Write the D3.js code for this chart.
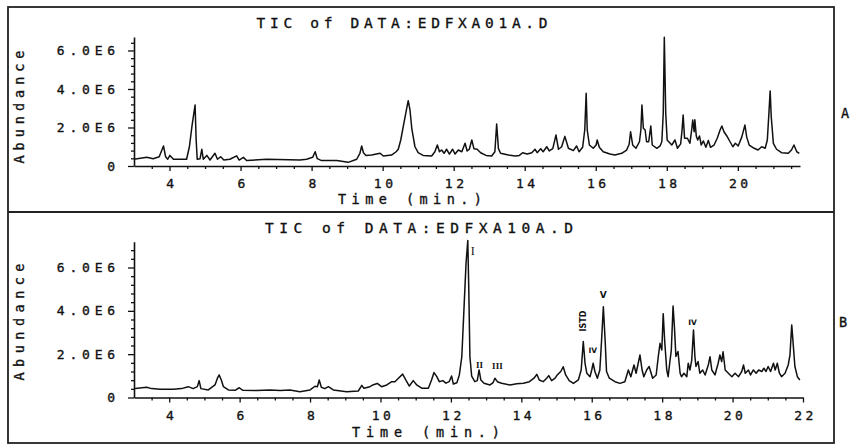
<!DOCTYPE html>
<html>
<head>
<meta charset="UTF-8">
<script src="https://d3js.org/d3.v7.min.js"></script>
<style>
  html, body { margin: 0; padding: 0; background: #fff; }
  svg { display: block; }
  text { fill: #111; }
  .mono { font-family: "DejaVu Sans Mono", monospace; stroke: #111; stroke-width: 0.35px; }
</style>
</head>
<body>
<div id="viz"></div>
<script>
// tick values (abundance in units of 1E6, time in minutes)
const yTicks = [0, 2, 4, 6];
const xTicksA = [4, 6, 8, 10, 12, 14, 16, 18, 20];
const xTicksB = [4, 6, 8, 10, 12, 14, 16, 18, 20, 22];
const titleA = "TIC of DATA:EDFXA01A.D";
const titleB = "TIC of DATA:EDFXA10A.D";

// [time (min), abundance (E6)]
const traceA = [
  [3.00,0.35],[3.36,0.45],[3.54,0.38],[3.71,0.48],[3.83,1.04],[3.89,0.48],[3.95,0.35],[4.01,0.55],[4.11,0.35],[4.48,0.35],
  [4.56,1.00],[4.63,2.04],[4.72,3.17],[4.75,1.35],[4.78,0.35],[4.86,0.38],[4.91,0.87],[4.95,0.35],[5.05,0.55],[5.14,0.31],
  [5.28,0.66],[5.35,0.35],[5.44,0.48],[5.53,0.31],[5.70,0.35],[5.89,0.53],[5.96,0.31],[6.08,0.45],[6.17,0.29],[6.74,0.35],
  [7.67,0.31],[7.86,0.35],[8.03,0.45],[8.10,0.74],[8.16,0.38],[8.28,0.28],[8.71,0.28],[9.03,0.19],[9.27,0.35],[9.36,0.66],
  [9.41,1.04],[9.46,0.69],[9.53,0.55],[9.69,0.57],[9.93,0.66],[10.02,0.52],[10.25,0.57],[10.38,0.74],[10.44,0.87],[10.51,1.35],
  [10.58,2.04],[10.66,2.82],[10.72,3.39],[10.77,2.91],[10.82,1.96],[10.86,1.52],[10.91,1.00],[11.00,0.69],[11.14,0.55],[11.38,0.52],
  [11.47,0.74],[11.54,1.09],[11.60,0.74],[11.66,0.83],[11.73,0.66],[11.80,0.87],[11.88,0.62],[11.97,0.87],[12.04,0.62],[12.13,0.83],
  [12.23,0.74],[12.32,1.18],[12.38,0.78],[12.44,0.87],[12.51,1.35],[12.57,0.90],[12.66,0.87],[12.76,0.69],[12.91,0.55],[13.07,0.52],
  [13.16,0.74],[13.21,2.18],[13.26,0.90],[13.32,0.66],[13.54,0.57],[13.73,0.52],[13.85,0.55],[13.94,0.69],[14.07,0.62],[14.20,0.69],
  [14.29,0.87],[14.35,0.69],[14.45,0.90],[14.52,0.74],[14.62,1.00],[14.69,0.78],[14.79,0.90],[14.88,1.61],[14.95,0.87],[15.04,1.00],
  [15.13,1.54],[15.23,0.92],[15.37,0.80],[15.46,1.04],[15.53,0.74],[15.63,0.97],[15.69,1.87],[15.73,3.78],[15.76,1.87],[15.82,1.09],
  [15.93,0.92],[16.01,1.09],[16.04,1.35],[16.10,0.97],[16.21,0.74],[16.40,0.62],[16.54,0.57],[16.73,0.66],[16.87,0.83],[16.94,1.13],
  [16.98,1.78],[17.04,1.09],[17.13,0.92],[17.23,1.26],[17.27,1.87],[17.30,3.17],[17.34,1.96],[17.39,1.87],[17.43,1.26],[17.49,1.26],
  [17.55,2.08],[17.59,1.09],[17.72,0.92],[17.81,1.04],[17.86,1.26],[17.90,2.74],[17.93,6.69],[17.97,2.74],[18.01,1.35],[18.14,1.09],
  [18.23,1.35],[18.30,0.92],[18.39,1.15],[18.43,1.87],[18.46,2.65],[18.50,1.44],[18.58,1.44],[18.65,1.18],[18.70,1.87],[18.73,2.39],
  [18.77,1.78],[18.79,2.40],[18.83,1.56],[18.87,1.35],[18.92,1.56],[18.97,1.09],[19.03,1.30],[19.10,0.97],[19.17,1.33],[19.23,0.97],
  [19.33,1.09],[19.42,1.44],[19.50,1.87],[19.55,2.08],[19.61,1.78],[19.69,1.56],[19.78,1.26],[19.86,1.00],[19.93,1.18],[20.01,1.04],
  [20.11,1.50],[20.20,2.13],[20.25,1.50],[20.32,1.09],[20.46,0.92],[20.57,0.83],[20.67,1.00],[20.77,0.92],[20.83,1.35],[20.88,2.90],
  [20.91,3.90],[20.94,2.57],[21.00,1.18],[21.09,0.87],[21.23,0.69],[21.42,0.66],[21.51,0.83],[21.58,1.09],[21.66,0.74],[21.73,0.66]
];

const traceB = [
  [3.03,0.42],[3.36,0.47],[3.50,0.41],[3.74,0.38],[4.12,0.38],[4.35,0.41],[4.54,0.50],[4.68,0.41],[4.80,0.50],[4.85,0.78],
  [4.90,0.41],[5.11,0.35],[5.30,0.58],[5.37,0.89],[5.42,1.04],[5.48,0.81],[5.54,0.50],[5.68,0.35],[5.87,0.33],[5.99,0.45],
  [6.09,0.33],[6.48,0.32],[6.86,0.35],[7.15,0.32],[7.43,0.35],[7.71,0.27],[8.00,0.35],[8.14,0.52],[8.21,0.50],[8.26,0.81],
  [8.32,0.47],[8.42,0.41],[8.52,0.50],[8.66,0.35],[9.04,0.27],[9.37,0.30],[9.47,0.56],[9.53,0.43],[9.70,0.50],[9.80,0.59],
  [9.91,0.65],[10.03,0.50],[10.18,0.58],[10.32,0.73],[10.41,0.73],[10.51,0.89],[10.63,1.08],[10.73,0.78],[10.82,0.53],[10.93,0.78],
  [11.03,0.58],[11.17,0.43],[11.36,0.43],[11.45,0.81],[11.52,1.15],[11.60,0.96],[11.67,0.73],[11.77,0.78],[11.86,0.66],[11.95,0.73],
  [12.02,0.99],[12.07,0.62],[12.17,0.68],[12.24,1.04],[12.31,1.88],[12.37,4.04],[12.43,6.19],[12.48,7.25],[12.51,4.81],[12.54,1.88],
  [12.59,0.99],[12.68,0.73],[12.75,0.78],[12.80,1.27],[12.85,0.81],[12.94,0.66],[13.11,0.58],[13.20,0.69],[13.25,0.89],[13.32,0.73],
  [13.44,0.66],[13.68,0.58],[13.87,0.63],[14.06,0.66],[14.23,0.73],[14.36,0.89],[14.44,1.07],[14.51,0.81],[14.62,0.73],[14.72,0.89],
  [14.78,1.01],[14.86,0.78],[14.96,0.89],[15.02,1.04],[15.12,1.20],[15.19,1.42],[15.26,1.04],[15.36,0.78],[15.48,0.65],[15.62,0.81],
  [15.70,1.27],[15.76,2.58],[15.81,1.58],[15.86,1.12],[15.95,0.96],[16.00,1.27],[16.04,1.58],[16.09,1.20],[16.16,0.89],[16.23,1.27],
  [16.28,2.65],[16.33,4.19],[16.38,2.65],[16.42,1.20],[16.50,0.89],[16.66,0.73],[16.80,0.65],[16.94,0.73],[17.04,1.27],[17.11,0.96],
  [17.20,1.50],[17.26,1.12],[17.32,1.58],[17.37,1.96],[17.43,1.27],[17.48,0.96],[17.56,1.27],[17.63,1.43],[17.73,0.89],[17.83,1.04],
  [17.89,1.89],[17.94,2.50],[17.99,2.19],[18.03,3.87],[18.07,2.65],[18.13,1.27],[18.17,0.96],[18.22,1.66],[18.26,2.19],[18.31,4.22],
  [18.35,3.20],[18.39,1.89],[18.45,2.12],[18.51,1.12],[18.55,0.96],[18.62,1.12],[18.70,0.96],[18.74,1.58],[18.79,1.27],[18.84,1.73],
  [18.89,3.11],[18.93,1.89],[18.96,1.43],[19.02,1.66],[19.07,1.12],[19.15,1.27],[19.22,1.04],[19.31,1.50],[19.36,1.88],[19.41,1.27],
  [19.50,1.04],[19.59,1.58],[19.64,1.96],[19.69,1.66],[19.73,2.11],[19.79,1.27],[19.88,1.12],[19.98,0.96],[20.07,1.12],[20.17,0.96],
  [20.26,1.20],[20.31,1.50],[20.36,1.12],[20.45,1.27],[20.51,1.04],[20.59,1.27],[20.67,1.12],[20.74,1.27],[20.83,1.20],[20.89,1.35],
  [20.95,1.20],[21.01,1.43],[21.08,1.20],[21.16,1.58],[21.21,1.27],[21.27,1.58],[21.33,1.12],[21.39,0.96],[21.49,1.12],[21.58,1.50],
  [21.63,1.96],[21.68,3.35],[21.72,2.50],[21.77,1.43],[21.84,0.96],[21.91,0.81]
];

// peak labels in run B: [text, time, abundance]
const peakLabelsB = [
  ["I", 12.62, 6.77],
  ["II", 12.81, 1.50],
  ["III", 13.32, 1.45],
  ["ISTD", 15.76, 3.53],
  ["IV", 16.03, 2.19],
  ["V", 16.33, 4.73],
  ["IV", 18.86, 3.44]
];

const svg = d3.select("#viz").append("svg")
    .attr("width", 865)
    .attr("height", 444);

// outer frame, split into two panels
svg.append("rect")
    .attr("x", 8).attr("y", 7).attr("width", 826).attr("height", 436)
    .attr("fill", "none").attr("stroke", "#222").attr("stroke-width", 1.8);
svg.append("line")
    .attr("x1", 8).attr("x2", 834).attr("y1", 212).attr("y2", 212)
    .attr("stroke", "#222").attr("stroke-width", 1.8);

function drawPanel(o) {
  const x = d3.scaleLinear().domain(o.xDomain).range(o.xRange);
  const y = d3.scaleLinear().domain(o.yDomain).range(o.yRange);
  const g = svg.append("g");
  const y0 = y(0);

  // minor ticks
  const xMinor = d3.range(3.5, o.xDomain[1], 0.5).filter(t => t % 2 !== 0);
  const yMinor = d3.range(0.4, o.yDomain[1], 0.4).filter(v => Math.abs(v / 2 - Math.round(v / 2)) > 0.01);

  g.append("g")
      .attr("transform", `translate(0,${y0})`)
      .call(d3.axisBottom(x).tickValues(xMinor).tickSize(3).tickFormat(""))
      .call(a => a.select(".domain").remove());
  g.append("g")
      .attr("transform", `translate(${o.xRange[0]},0)`)
      .call(d3.axisLeft(y).tickValues(yMinor).tickSize(3).tickFormat(""))
      .call(a => a.select(".domain").remove());

  const xa = g.append("g")
      .attr("transform", `translate(0,${y0})`)
      .call(d3.axisBottom(x).tickValues(o.xTicks).tickSize(5).tickPadding(8).tickSizeOuter(0).tickFormat(d3.format("d")));
  xa.selectAll("text")
      .attr("class", "mono").attr("font-size", 13).attr("letter-spacing", 3.5).attr("dx", 2);

  const ya = g.append("g")
      .attr("transform", `translate(${o.xRange[0]},0)`)
      .call(d3.axisLeft(y).tickValues(yTicks).tickSize(6).tickPadding(8).tickSizeOuter(0)
        .tickFormat(d => d === 0 ? "0" : d.toFixed(1) + "E6"));
  ya.selectAll("text")
      .attr("class", "mono").attr("font-size", 13).attr("letter-spacing", 4.8);

  g.selectAll(".domain").attr("stroke-width", 1.6);
  g.selectAll(".tick line").attr("stroke-width", 1.3);
  g.selectAll(".domain, .tick line").attr("stroke", "#111");
  g.selectAll(".tick text").attr("fill", "#111");

  g.append("path")
      .datum(o.trace)
      .attr("fill", "none")
      .attr("stroke", "#111")
      .attr("stroke-width", 1.5)
      .attr("stroke-linejoin", "round")
      .attr("d", d3.line().x(d => x(d[0])).y(d => y(d[1])));

  g.append("text").attr("class", "mono")
      .attr("x", o.title[1]).attr("y", o.title[2])
      .attr("text-anchor", "middle").attr("font-size", 14.5)
      .attr("textLength", o.title[3]).attr("lengthAdjust", "spacing")
      .text(o.title[0]);

  g.append("text").attr("class", "mono")
      .attr("x", o.xLabel[0]).attr("y", o.xLabel[1])
      .attr("text-anchor", "middle").attr("font-size", 13.5)
      .attr("textLength", o.xLabel[2]).attr("lengthAdjust", "spacing")
      .text("Time (min.)");

  g.append("text").attr("class", "mono")
      .attr("transform", `translate(${o.yLabel[0]},${o.yLabel[1]}) rotate(-90)`)
      .attr("text-anchor", "middle").attr("font-size", 13.5)
      .attr("textLength", o.yLabel[2]).attr("lengthAdjust", "spacing")
      .text("Abundance");

  g.append("text").attr("class", "mono")
      .attr("x", o.letter[1]).attr("y", o.letter[2])
      .attr("text-anchor", "middle").attr("font-size", 13.5)
      .text(o.letter[0]);

  return {x, y, g};
}

drawPanel({
  trace: traceA, xTicks: xTicksA,
  xDomain: [3, 21.75], xRange: [134, 800],
  yDomain: [0, 6.7], yRange: [166, 37],
  title: [titleA, 402, 28, 291],
  xLabel: [410, 204, 144],
  yLabel: [24, 107, 113],
  letter: ["A", 845, 118]
});

const pB = drawPanel({
  trace: traceB, xTicks: xTicksB,
  xDomain: [3, 22], xRange: [134, 803],
  yDomain: [0, 7.19], yRange: [397.5, 241.7],
  title: [titleB, 419, 233, 308],
  xLabel: [426, 437, 148],
  yLabel: [24, 322, 117],
  letter: ["B", 843, 327]
});

// peak annotations on run B
const labelStyle = {
  "I":    {font: "Liberation Serif", size: 12, weight: "normal"},
  "II":   {font: "Liberation Serif", size: 9, weight: "bold"},
  "III":  {font: "Liberation Serif", size: 9, weight: "bold"},
  "ISTD": {font: "DejaVu Sans", size: 8, weight: "bold"},
  "IV":   {font: "DejaVu Sans", size: 7.5, weight: "bold"},
  "V":    {font: "DejaVu Sans", size: 9, weight: "bold"}
};
pB.g.selectAll("text.peak")
  .data(peakLabelsB)
  .join("text")
    .attr("class", "peak")
    .attr("font-family", d => labelStyle[d[0]].font)
    .attr("font-size", d => labelStyle[d[0]].size)
    .attr("font-weight", d => labelStyle[d[0]].weight)
    .attr("text-anchor", "middle")
    .attr("dominant-baseline", "central")
    .attr("transform", d => `translate(${pB.x(d[1])},${pB.y(d[2])})` + (d[0] === "ISTD" ? " rotate(-90)" : ""))
    .text(d => d[0]);
</script>
</body>
</html>
